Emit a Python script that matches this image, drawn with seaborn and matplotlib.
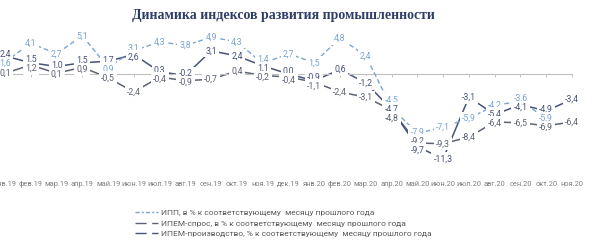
import numpy as np
import pandas as pd
import matplotlib
matplotlib.use("Agg")
import matplotlib.pyplot as plt
from matplotlib.lines import Line2D
import seaborn as sns

# ---------------- data ----------------
months = ['янв.19', 'фев.19', 'мар.19', 'апр.19', 'май.19', 'июн.19', 'июл.19',
          'авг.19', 'сен.19', 'окт.19', 'ноя.19', 'дек.19', 'янв.20', 'фев.20',
          'мар.20', 'апр.20', 'май.20', 'июн.20', 'июл.20', 'авг.20', 'сен.20',
          'окт.20', 'ноя.20']
ipp = [1.6, 4.1, 2.7, 5.1, 0.9, 3.1, 4.3, 3.8, 4.9, 4.3, 1.4, 2.7, 1.5, 4.8,
       2.4, -4.5, -7.9, -7.1, -5.9, -4.2, -3.6, -5.9, np.nan]
ipem_prod = [2.4, 1.5, 1.0, 1.5, 1.7, 2.6, 0.3, -0.2, 3.1, 2.4, 1.1, 0.0, -0.9,
             0.6, -1.2, -4.7, -9.7, -11.3, -3.1, -5.4, -4.1, -4.9, -3.4]
ipem_demand = [0.1, 1.2, 0.1, 0.9, -0.5, -2.4, -0.4, -0.9, -0.7, 0.4, -0.2, -0.4,
               -1.1, -2.4, -3.1, -4.8, -9.2, -9.3, -8.4, -6.4, -6.5, -6.9, -6.4]
series_names = ['ИПП, в % к соответствующему  месяцу прошлого года',
                'ИПЕМ-спрос, в % к соответствующему  месяцу прошлого года',
                'ИПЕМ-производство, % к соответствующему  месяцу прошлого года']
title = 'Динамика индексов развития промышленности'

# ---------------- style ----------------
sns.set_style('white')
plt.rcParams['font.family'] = ['Roboto', 'DejaVu Sans']

c_ipp = '#7aa5d0'
c_dem = '#5b6272'
c_prod = '#46537a'
c_tick = '#7f7f7f'

DPI = 100
W, H = 600, 245
fig = plt.figure(figsize=(W / DPI, H / DPI), dpi=DPI)

# layout in pixels
PX_PER_UNIT_Y = 7.5
Y0 = 74.0           # zero line pixel row
AX_TOP, AX_BOT = 25.0, 178.0
X_FIRST, X_LAST = 5.0, 572.0
px_per_cat = (X_LAST - X_FIRST) / (len(months) - 1)

ax = fig.add_axes([0, (H - AX_BOT) / H, 1, (AX_BOT - AX_TOP) / H])
ax.set_xlim(-X_FIRST / px_per_cat, (W - X_FIRST) / px_per_cat)
ax.set_ylim(-(AX_BOT - Y0) / PX_PER_UNIT_Y, (Y0 - AX_TOP) / PX_PER_UNIT_Y)

x = np.arange(len(months))
df = pd.DataFrame({'x': x, 'ipp': ipp, 'prod': ipem_prod, 'dem': ipem_demand})

sns.lineplot(data=df, x='x', y='ipp', ax=ax, color=c_ipp, lw=1.0,
             linestyle=(0, (3.5, 2.0)), zorder=3)
sns.lineplot(data=df, x='x', y='dem', ax=ax, color=c_dem, lw=1.1, zorder=2)
sns.lineplot(data=df, x='x', y='prod', ax=ax, color=c_prod, lw=1.1, zorder=2)

# axis styling: zero line with ticks, labels low
for s in ['top', 'right', 'left']:
    ax.spines[s].set_visible(False)
ax.spines['bottom'].set_position(('data', 0))
ax.spines['bottom'].set_color('#bfbfbf')
ax.spines['bottom'].set_linewidth(0.8)
ax.spines['bottom'].set_bounds(ax.get_xlim()[0], len(months) - 1)
ax.set_xticks(x)
ax.set_xticklabels(months)
ax.set_yticks([])
ax.set_xlabel('')
ax.set_ylabel('')
tick_len_pt = 2.2
pad_pt = (AX_BOT + 3 - (Y0 + 3)) * 72 / DPI
ax.tick_params(axis='x', direction='out', length=tick_len_pt, width=0.7,
               color='#bfbfbf', labelsize=5.3, labelcolor=c_tick, pad=pad_pt,
               bottom=True)

# data labels with simple per-month de-overlap
MIN_GAP = 9.0
for i in x:
    items = []
    for vals, col in ((ipp, c_ipp), (ipem_prod, c_prod), (ipem_demand, c_dem)):
        v = vals[i]
        if not np.isnan(v):
            items.append([v, col, v * PX_PER_UNIT_Y])
    items.sort(key=lambda t: -t[0])
    pos = [t[2] for t in items]
    for _ in range(40):
        for j in range(1, len(pos)):
            gap = pos[j - 1] - pos[j]
            if gap < MIN_GAP:
                d = (MIN_GAP - gap) / 2
                pos[j - 1] += d
                pos[j] -= d
    for (v, col, p0), p in zip(items, pos):
        dy_pt = (p - p0) * 72 / DPI
        txt = f'{v:.1f}'.replace('.', ',')
        ax.annotate(txt, (i, v), xytext=(0, dy_pt), textcoords='offset points',
                    ha='center', va='center', fontsize=6.3, color=col,
                    zorder=5,
                    bbox=dict(boxstyle='square,pad=0.25', fc='white', ec='none'))

# title
fig.text(283 / W, 1 - 16 / H, title, ha='center', va='center',
         fontsize=10, fontweight='bold', color='#2e3d68',
         family=['Liberation Serif', 'DejaVu Serif'])

# legend
handles = [
    Line2D([], [], color=c_ipp, lw=1.0, linestyle=(0, (3, 1.5, 1.5, 1.5))),
    Line2D([], [], color=c_dem, lw=1.0, linestyle=(0, (8, 4))),
    Line2D([], [], color=c_prod, lw=1.0, linestyle=(0, (8, 4))),
]
fig.legend(handles, series_names, loc='upper left',
           bbox_to_anchor=(135 / W, 1 - 209 / H), frameon=False,
           fontsize=6, labelcolor='#595959', handlelength=2.7,
           handletextpad=0.4, labelspacing=0.45, borderpad=0,
           borderaxespad=0)

fig.savefig('out.png', dpi=DPI)
